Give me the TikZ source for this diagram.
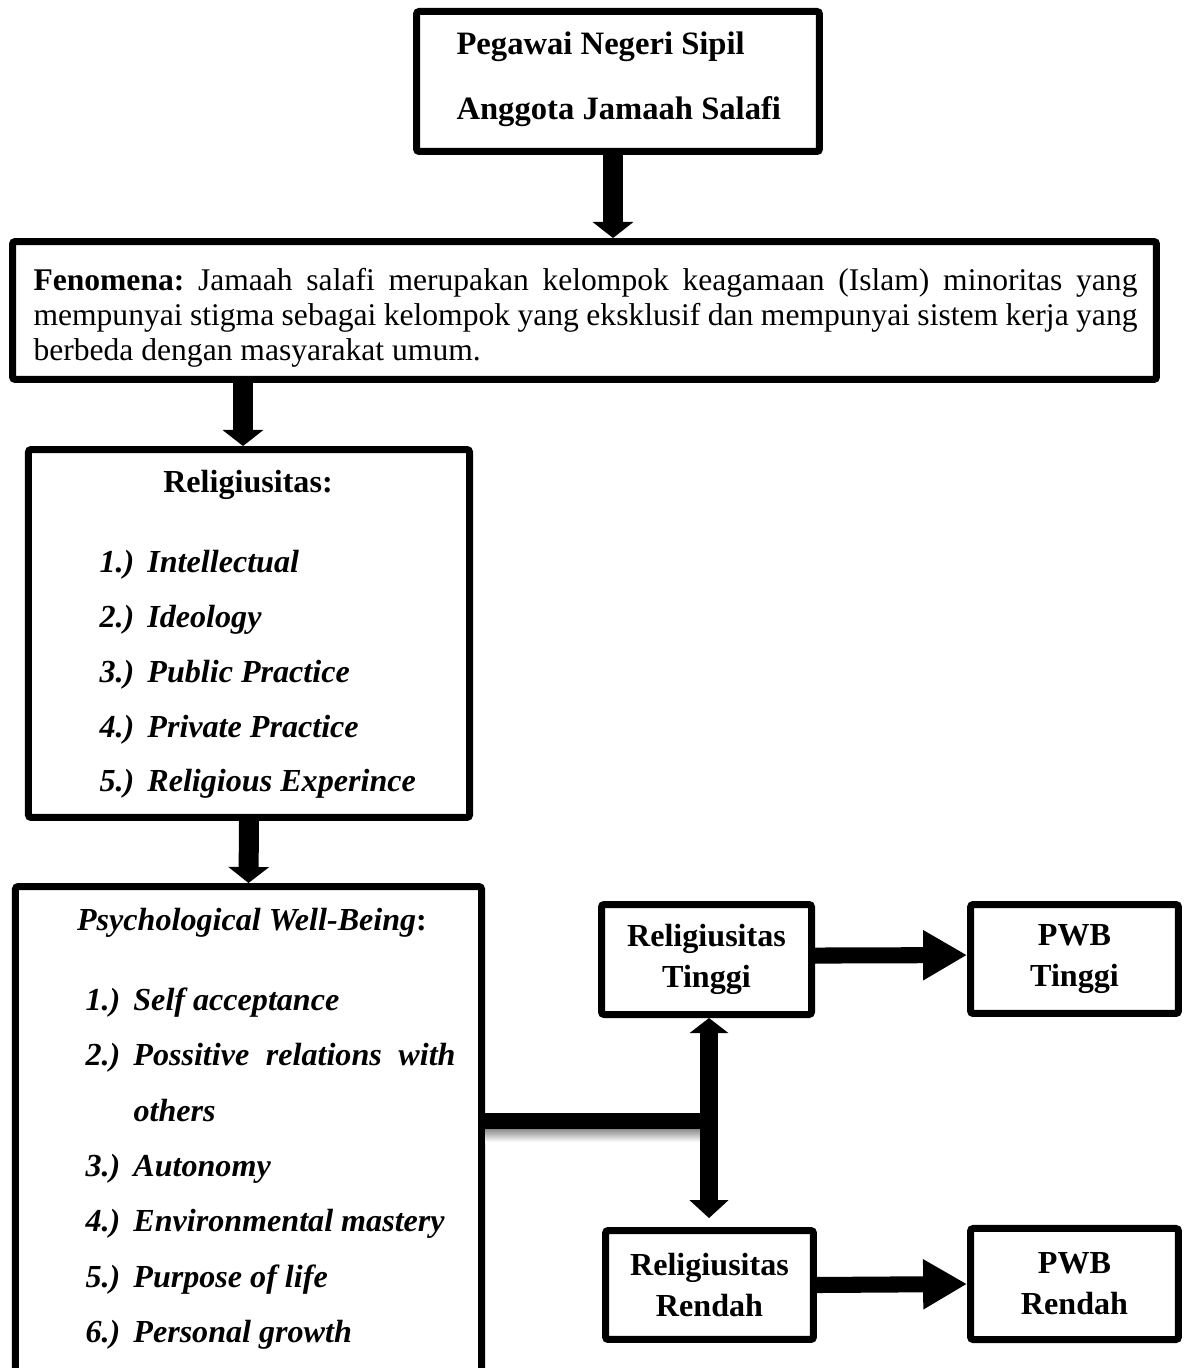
\documentclass[tikz,border=0pt]{standalone}
\usepackage{fontspec}
\setmainfont{Liberation Serif}
\usepackage{tikz}
\usetikzlibrary{arrows.meta}

\frenchspacing
\newcommand{\itemno}[1]{\makebox[18.2pt][l]{#1}}

\begin{document}
\begin{tikzpicture}[x=0.38pt,y=-0.38pt,
    box node/.style={draw,line width=2.66pt,rounded corners=1pt,inner sep=0pt,align=center,font=\bfseries\fontsize{12.2}{15.6}\selectfont},
    line node/.style={anchor=base west,inner sep=0pt,font=\fontsize{12}{14}\selectfont},
    item node/.style={anchor=base west,inner sep=0pt,font=\bfseries\itshape\fontsize{12.2}{14}\selectfont},
    main arrow/.style={-{Triangle[width=15.2pt,length=6.1pt]},line width=7.6pt},
    side arrow/.style={-{Triangle[width=17.9pt,length=16.7pt]},line width=6.1pt},
    split arrow/.style={{Triangle[width=14.4pt,length=5.7pt]}-{Triangle[width=14.4pt,length=6.8pt]},line width=6.8pt}]
    \useasboundingbox (0,0) rectangle (1184,1368);
    \clip (0,0) rectangle (1184,1368);

    % boxes
    \node[box node,minimum width=153.1pt,minimum height=53.2pt] (top) at (618,81.5) {};
    \node[box node,minimum width=434.7pt,minimum height=52.4pt] (fenomena) at (584.5,310.5) {};
    \node[box node,minimum width=167.6pt,minimum height=139.8pt] (relig) at (249,633.5) {};
    \node[box node,minimum width=177.1pt,minimum height=195.1pt] (pwb) at (248.5,1143.25) {};
    \node[box node,minimum width=79.8pt,minimum height=41.8pt] (rt) at (706.5,959.5) {Religiusitas\\Tinggi};
    \node[box node,minimum width=79pt,minimum height=41.4pt] (pwbt) at (1074.5,959) {PWB\\Tinggi};
    \node[box node,minimum width=79pt,minimum height=41.4pt] (rr) at (709.5,1285) {Religiusitas\\Rendah};
    \node[box node,minimum width=79pt,minimum height=42.2pt] (pwbr) at (1074.5,1284) {PWB\\Rendah};

    % top and fenomena text
    \node[line node,font=\bfseries\fontsize{12.4}{14}\selectfont] (top1) at (456,55) {Pegawai Negeri Sipil};
    \node[line node,font=\bfseries\fontsize{12.4}{14}\selectfont] (top2) at (456,120) {Anggota Jamaah Salafi};
    \node[line node] (fen1) at (33,291) {\makebox[419.5pt][s]{\textbf{Fenomena:} Jamaah salafi merupakan kelompok keagamaan (Islam) minoritas yang}};
    \node[line node] (fen2) at (33,326) {\makebox[419.5pt][s]{mempunyai stigma sebagai kelompok yang eksklusif dan mempunyai sistem kerja yang}};
    \node[line node] (fen3) at (33,361) {berbeda dengan masyarakat umum.};

    % religiusitas
    \node[anchor=base,inner sep=0pt,font=\bfseries\fontsize{12.2}{14}\selectfont] (religtitle) at (248,493) {Religiusitas:};
    \node[item node] (relig1) at (99,572) {\itemno{1.)}Intellectual};
    \node[item node] (relig2) at (99,627) {\itemno{2.)}Ideology};
    \node[item node] (relig3) at (99,682) {\itemno{3.)}Public Practice};
    \node[item node] (relig4) at (99,737) {\itemno{4.)}Private Practice};
    \node[item node] (relig5) at (99,791) {\itemno{5.)}Religious Experince};

    % psychological well-being
    \node[anchor=base,inner sep=0pt,font=\bfseries\itshape\fontsize{12.2}{14}\selectfont] (pwbtitle) at (252,930) {Psychological Well-Being\upshape:};
    \node[item node] (pwb1) at (85,1010) {\itemno{1.)}Self acceptance};
    \node[item node] (pwb2) at (85,1065) {\itemno{2.)}\makebox[122.4pt][s]{Possitive relations with}};
    \node[item node] (pwb2b) at (133,1121) {others};
    \node[item node] (pwb3) at (85,1176) {\itemno{3.)}Autonomy};
    \node[item node] (pwb4) at (85,1231) {\itemno{4.)}Environmental mastery};
    \node[item node] (pwb5) at (85,1287) {\itemno{5.)}Purpose of life};
    \node[item node] (pwb6) at (85,1342) {\itemno{6.)}Personal growth};

    % connectors
    \draw[main arrow] (top.south -| 613,0) -- (fenomena.north -| 613,0);
    \draw[main arrow] (fenomena.south -| 243,0) -- (relig.north -| 243,0);
    \draw[main arrow] (relig.south) -- (pwb.north);

    \coordinate (split) at (709,1121);
    \shade[top color=black!45,bottom color=white] (485,1129) rectangle (700,1142);
    \draw[line width=6.1pt] (pwb.east |- split) -- ([xshift=3.4pt]split);
    \draw[split arrow,shorten >=3.4pt] (split |- rt.south) -- (split |- rr.north);

    \draw[side arrow] ([yshift=1.5pt]rt.east) -- ([yshift=1.5pt]pwbt.west);
    \draw[side arrow] (rr.east) -- (pwbr.west);
\end{tikzpicture}
\end{document}
